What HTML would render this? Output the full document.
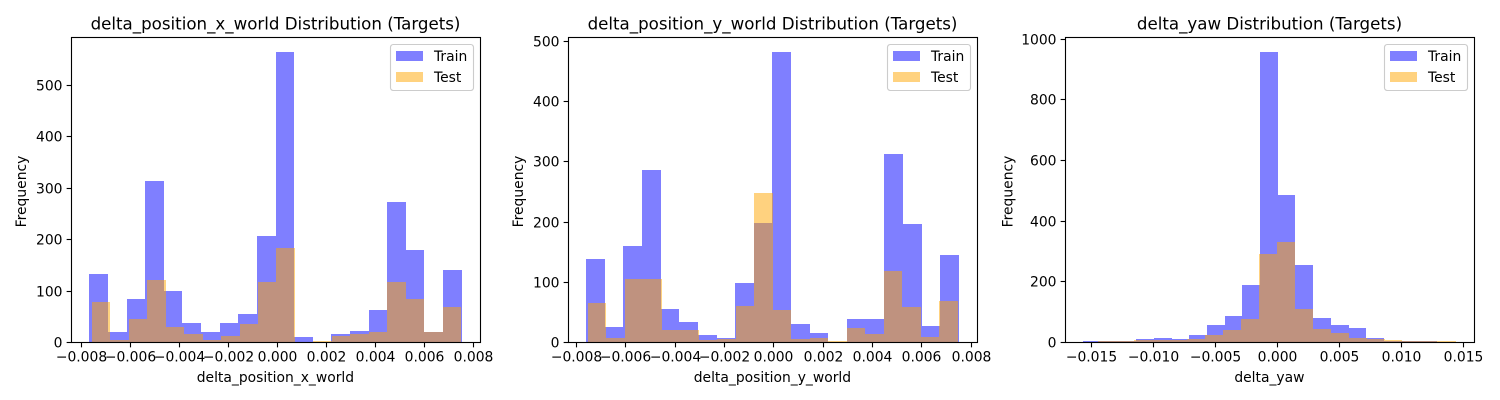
<!DOCTYPE html>
<html lang="en">
<head>
<meta charset="utf-8">
<title>Target Distributions</title>
<style>
  html, body { margin: 0; padding: 0; background: #fff; }
  svg { display: block; }
  text { font-family: "DejaVu Sans", "Liberation Sans", sans-serif; fill: #000; }
</style>
</head>
<body>
<svg id="figure" xmlns="http://www.w3.org/2000/svg" width="1500" height="400" viewBox="0 0 1500 400"></svg>
<script>
// ---- data ----
const seriesNames = ['Train', 'Test'];
const xPanelTrain = [133, 20, 85, 314, 100, 38, 20, 37, 55, 207, 565, 11, 0, 17, 23, 64, 273, 179, 20, 140];
const xPanelTest = [78, 5, 45, 122, 29, 16, 5, 13, 35, 117, 183, 0, 2, 13, 16, 20, 117, 84, 21, 68];
const yPanelTrain = [139, 26, 161, 286, 55, 34, 12, 7, 99, 199, 483, 30, 15, 0, 39, 39, 313, 197, 27, 146];
const yPanelTest = [66, 7, 106, 106, 21, 21, 4, 6, 61, 249, 54, 6, 7, 3, 24, 14, 119, 59, 9, 69];
const yawPanelTrain = [3, 3, 3, 10, 13, 10, 23, 56, 86, 188, 957, 487, 254, 79, 59, 46, 16, 5, 3, 3];
const yawPanelTest = [3, 3, 7, 7, 7, 10, 23, 40, 76, 291, 331, 109, 43, 30, 13, 10, 7, 3, 3, 3];

const xPanelTrainRange = [-0.00766, 0.007525];
const xPanelTestRange = [-0.007552, 0.007494];
const yPanelTrainRange = [-0.007602, 0.007529];
const yPanelTestRange = [-0.007534, 0.007477];
const yawPanelTrainRange = [-0.01565, 0.01288];
const yawPanelTestRange = [-0.01446, 0.01443];

const xPanelXTicks = [-0.008, -0.006, -0.004, -0.002, 0, 0.002, 0.004, 0.006, 0.008];
const yPanelXTicks = [-0.008, -0.006, -0.004, -0.002, 0, 0.002, 0.004, 0.006, 0.008];
const yawPanelXTicks = [-0.015, -0.010, -0.005, 0, 0.005, 0.010, 0.015];
const xPanelYTicks = [0, 100, 200, 300, 400, 500];
const yPanelYTicks = [0, 100, 200, 300, 400, 500];
const yawPanelYTicks = [0, 200, 400, 600, 800, 1000];

const panels = [
  { key: 'position-x', title: 'delta_position_x_world Distribution (Targets)', xlabel: 'delta_position_x_world',
    left: 71.5, right: 480.5, yLabelOffset: 45.5, xDomain: [-0.008387, 0.00829], yMax: 593.2, decimals: 3,
    train: xPanelTrain, test: xPanelTest, trainRange: xPanelTrainRange, testRange: xPanelTestRange,
    xTicks: xPanelXTicks, yTicks: xPanelYTicks },
  { key: 'position-y', title: 'delta_position_y_world Distribution (Targets)', xlabel: 'delta_position_y_world',
    left: 568.5, right: 977.5, yLabelOffset: 45.5, xDomain: [-0.008312, 0.00828], yMax: 507, decimals: 3,
    train: yPanelTrain, test: yPanelTest, trainRange: yPanelTrainRange, testRange: yPanelTestRange,
    xTicks: yPanelXTicks, yTicks: yPanelYTicks },
  { key: 'yaw', title: 'delta_yaw Distribution (Targets)', xlabel: 'delta_yaw',
    left: 1065.5, right: 1474.5, yLabelOffset: 53, xDomain: [-0.01706, 0.0159], yMax: 1005, decimals: 3,
    train: yawPanelTrain, test: yawPanelTest, trainRange: yawPanelTrainRange, testRange: yawPanelTestRange,
    xTicks: yawPanelXTicks, yTicks: yawPanelYTicks }
];

const AXIS_TOP = 37.5;
const AXIS_BASE = 342.4;
const SPINE_BOTTOM = 342.5;
const BLUE = '#0000ff';
const ORANGE = '#ffa500';
const SVG_NS = 'http://www.w3.org/2000/svg';
const figure = document.getElementById('figure');

function make(tag, attrs, parent, content) {
  const el = document.createElementNS(SVG_NS, tag);
  for (const k in attrs) el.setAttribute(k, attrs[k]);
  if (content !== undefined) el.textContent = content;
  parent.appendChild(el);
  return el;
}

function formatTick(v, decimals) {
  const s = Math.abs(v).toFixed(decimals);
  return v < 0 ? '\u2212' + s : s;
}

function drawBars(group, counts, range, color, xScale, yScale, seriesKey) {
  const width = (range[1] - range[0]) / counts.length;
  counts.forEach(function (count, i) {
    const x0 = Math.round(xScale(range[0] + i * width));
    const x1 = Math.round(xScale(range[0] + (i + 1) * width));
    const yTop = Math.round(yScale(count));
    const yBase = Math.round(yScale(0));
    const bar = make('rect', { x: x0, y: yTop, width: x1 - x0, height: yBase - yTop, fill: color, 'fill-opacity': 0.5, 'shape-rendering': 'crispEdges' }, group);
    
    
  });
}

function drawPanel(p) {
  const xScale = function (v) { return p.left + (v - p.xDomain[0]) / (p.xDomain[1] - p.xDomain[0]) * (p.right - p.left); };
  const yScale = function (v) { return AXIS_BASE - v / p.yMax * (AXIS_BASE - AXIS_TOP); };

  const g = make('g', {}, figure);
  
  

  const trainGroup = make('g', {}, g);
  
  
  drawBars(trainGroup, p.train, p.trainRange, BLUE, xScale, yScale, 'train');

  const testGroup = make('g', {}, g);
  
  
  drawBars(testGroup, p.test, p.testRange, ORANGE, xScale, yScale, 'test');

  // x ticks
  const xTickGroup = make('g', {}, g);
  
  
  p.xTicks.forEach(function (t) {
    const x = Math.round(xScale(t)) + 0.5;
    make('line', { x1: x, x2: x, y1: SPINE_BOTTOM, y2: SPINE_BOTTOM + 4.86, stroke: '#000', 'stroke-width': 1.11 }, xTickGroup);
    const label = make('text', { x: x, y: 361.5, 'text-anchor': 'middle', 'font-size': 13.89 }, xTickGroup, formatTick(t, p.decimals));
    
    
  });

  // y ticks
  const yTickGroup = make('g', {}, g);
  
  
  p.yTicks.forEach(function (t) {
    const y = Math.floor(yScale(t)) + 0.5;
    make('line', { x1: p.left, x2: p.left - 4.86, y1: y, y2: y, stroke: '#000', 'stroke-width': 1.11 }, yTickGroup);
    const label = make('text', { x: p.left - 9, y: y + 5.1, 'text-anchor': 'end', 'font-size': 13.89 }, yTickGroup, String(t));
    
    
  });

  // spines
  const frame = make('rect', { x: p.left, y: AXIS_TOP, width: p.right - p.left, height: SPINE_BOTTOM - AXIS_TOP, fill: 'none', stroke: '#000', 'stroke-width': 1.11 }, g);
  
  

  const cx = (p.left + p.right) / 2;
  const title = make('text', { x: cx - 0.5, y: 29.3, 'text-anchor': 'middle', 'font-size': 16.67 }, g, p.title);
  
  

  const xLabel = make('text', { x: cx - 0.6, y: 382, 'text-anchor': 'middle', 'font-size': 13.89 }, g, p.xlabel);
  
  

  const yLabelX = p.left - p.yLabelOffset;
  const yLabelY = 191.5;
  const yLabel = make('text', { x: yLabelX, y: yLabelY, 'text-anchor': 'middle', 'font-size': 13.89, transform: 'rotate(-90 ' + yLabelX + ' ' + yLabelY + ')' }, g, 'Frequency');
  
  

  // legend
  const legend = make('g', {}, g);
  
  
  const lx = p.right - 90;
  make('rect', { x: lx, y: 44.5, width: 83, height: 46, rx: 2.8, ry: 2.8, fill: '#fff', 'fill-opacity': 0.8, stroke: '#ccc', 'stroke-width': 1.11 }, legend);
  seriesNames.forEach(function (name, i) {
    const entry = make('g', {}, legend);
    
    
    const rowY = 51 + i * 21;
    make('rect', { x: lx + 5.5, y: rowY, width: 27, height: 10, fill: i === 0 ? BLUE : ORANGE, 'fill-opacity': 0.5, 'shape-rendering': 'crispEdges' }, entry);
    make('text', { x: lx + 43.5, y: rowY + 10.2, 'font-size': 13.89 }, entry, name);
  });
}

panels.forEach(drawPanel);
</script>
</body>
</html>
